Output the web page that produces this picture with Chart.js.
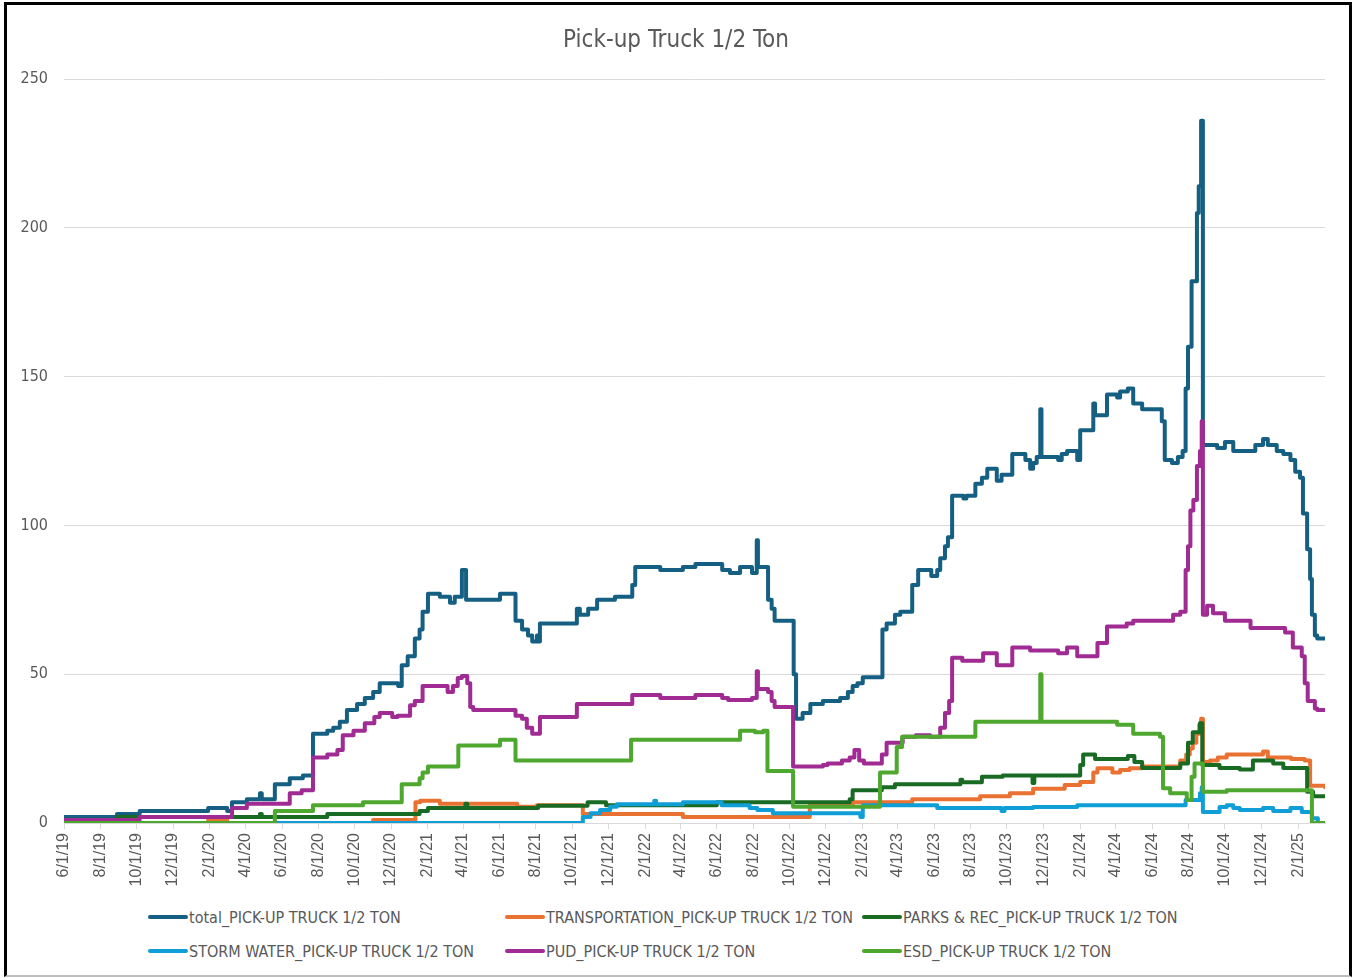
<!DOCTYPE html>
<html>
<head>
<meta charset="utf-8">
<title>Pick-up Truck 1/2 Ton</title>
<script src="https://cdn.jsdelivr.net/npm/chart.js@4.4.1/dist/chart.umd.min.js"></script>
<style>
  html, body { margin: 0; padding: 0; background: #fff; }
  body { width: 1352px; height: 978px; position: relative; overflow: hidden; }
  #frame {
    position: absolute; left: 4px; top: 2px; width: 1348px; height: 975px;
    box-sizing: border-box; border: 3px solid #000; border-bottom: 2px solid #bfbfbf;
  }
  #chart { position: absolute; left: 0; top: 0; }
  #title {
    position: absolute; left: 0; width: 1352px; top: 25px; text-align: center;
    font-family: 'Liberation Sans Narrow', 'DejaVu Sans Condensed', sans-serif;
    font-size: 24px; line-height: 29px; color: #595959;
  }
  .legend-item {
    position: absolute; height: 20px; display: flex; align-items: center;
    font-family: 'Liberation Sans Narrow', 'DejaVu Sans Condensed', sans-serif;
    font-size: 16px; color: #595959; white-space: nowrap;
  }
  .legend-item .swatch { width: 40px; height: 4px; border-radius: 2px; margin-right: 1px; }
</style>
</head>
<body>
<div id="frame"></div>
<canvas id="chart" width="1352" height="900"></canvas>
<div id="title">Pick-up Truck 1/2 Ton</div>
<div id="legend"></div>
<script>
// Values: [date, count], each value holds until the next date

const tickLabels = [
  '6/1/19', '8/1/19', '10/1/19', '12/1/19', '2/1/20', '4/1/20', '6/1/20', '8/1/20',
  '10/1/20', '12/1/20', '2/1/21', '4/1/21', '6/1/21', '8/1/21', '10/1/21', '12/1/21',
  '2/1/22', '4/1/22', '6/1/22', '8/1/22', '10/1/22', '12/1/22', '2/1/23', '4/1/23',
  '6/1/23', '8/1/23', '10/1/23', '12/1/23', '2/1/24', '4/1/24', '6/1/24', '8/1/24',
  '10/1/24', '12/1/24', '2/1/25'
];
const lastDate = '3/18/25';

const total = [
  ['6/1/19', 2], ['8/29/19', 3], ['10/6/19', 4], ['1/29/20', 5], ['3/1/20', 4], ['3/9/20', 7],
  ['4/3/20', 8], ['4/25/20', 10], ['4/28/20', 8], ['5/20/20', 13], ['6/14/20', 15], ['7/6/20', 16],
  ['7/23/20', 30], ['8/16/20', 31], ['8/26/20', 32], ['9/6/20', 34], ['9/18/20', 38], ['10/5/20', 40],
  ['10/18/20', 42], ['11/1/20', 44], ['11/12/20', 47], ['12/13/20', 46], ['12/19/20', 53], ['12/29/20', 56],
  ['1/10/21', 62], ['1/18/21', 65], ['1/23/21', 71], ['2/1/21', 77], ['2/21/21', 76], ['3/10/21', 74],
  ['3/18/21', 76], ['3/30/21', 85], ['4/6/21', 75], ['6/2/21', 77], ['6/28/21', 68], ['7/9/21', 65],
  ['7/19/21', 63], ['7/26/21', 61], ['8/3/21', 63], ['8/5/21', 61], ['8/8/21', 67], ['10/9/21', 72],
  ['10/14/21', 70], ['10/28/21', 72], ['11/12/21', 75], ['12/12/21', 76], ['1/10/22', 80], ['1/15/22', 86],
  ['2/26/22', 85], ['4/5/22', 86], ['4/26/22', 87], ['6/10/22', 85], ['6/23/22', 84], ['7/10/22', 86],
  ['7/30/22', 84], ['8/7/22', 95], ['8/9/22', 86], ['8/26/22', 75], ['9/1/22', 72], ['9/6/22', 68],
  ['10/8/22', 50], ['10/12/22', 35], ['10/23/22', 37], ['11/5/22', 40], ['11/26/22', 41], ['12/25/22', 42],
  ['1/7/23', 44], ['1/15/23', 46], ['1/23/23', 47], ['2/1/23', 49], ['3/6/23', 65], ['3/13/23', 67],
  ['3/27/23', 70], ['4/5/23', 71], ['4/25/23', 80], ['5/5/23', 85], ['5/27/23', 83], ['6/6/23', 85],
  ['6/11/23', 89], ['6/19/23', 93], ['6/24/23', 96], ['7/1/23', 110], ['7/20/23', 109], ['7/25/23', 110],
  ['8/9/23', 114], ['8/20/23', 116], ['8/29/23', 119], ['9/14/23', 115], ['9/22/23', 117], ['10/10/23', 124],
  ['11/1/23', 122], ['11/9/23', 119], ['11/14/23', 121], ['11/20/23', 123], ['11/26/23', 139], ['11/28/23', 123],
  ['12/26/23', 122], ['1/1/24', 124], ['1/10/24', 125], ['1/27/24', 122], ['2/1/24', 132], ['2/23/24', 141],
  ['2/26/24', 137], ['3/17/24', 144], ['4/3/24', 143], ['4/8/24', 145], ['4/21/24', 146], ['4/30/24', 141],
  ['5/15/24', 139], ['6/17/24', 135], ['6/22/24', 122], ['7/4/24', 121], ['7/14/24', 123], ['7/22/24', 125],
  ['7/27/24', 146], ['7/31/24', 160], ['8/6/24', 182], ['8/15/24', 205], ['8/18/24', 214], ['8/22/24', 236],
  ['8/25/24', 127], ['9/18/24', 126], ['10/1/24', 128], ['10/15/24', 125], ['11/21/24', 127], ['12/4/24', 129],
  ['12/12/24', 127], ['12/27/24', 125], ['1/7/25', 124], ['1/19/25', 122], ['1/27/25', 118], ['2/4/25', 116],
  ['2/9/25', 104], ['2/16/25', 92], ['2/21/25', 82], ['2/24/25', 70], ['3/1/25', 63], ['3/5/25', 62],
  ['3/18/25', 62]
];

const transportation = [
  ['6/1/19', 0], ['1/29/20', 1], ['3/1/20', 0], ['11/1/20', 1], ['1/11/21', 7], ['1/19/21', 7.5],
  ['2/21/21', 6.5], ['7/1/21', 5.5], ['8/3/21', 6], ['10/19/21', 3], ['4/5/22', 2], ['11/4/22', 6],
  ['1/15/23', 7], ['4/25/23', 8], ['8/17/23', 9], ['10/6/23', 10], ['11/14/23', 11.5], ['1/6/24', 12.8],
  ['2/1/24', 13.8], ['2/23/24', 17], ['3/1/24', 18.4], ['3/26/24', 17], ['4/8/24', 17.8], ['4/24/24', 18.4],
  ['5/15/24', 19], ['7/18/24', 21], ['7/28/24', 23], ['8/3/24', 25], ['8/8/24', 27], ['8/14/24', 30],
  ['8/19/24', 33], ['8/22/24', 35], ['8/25/24', 20.5], ['9/6/24', 21], ['9/19/24', 22], ['10/4/24', 23],
  ['12/4/24', 24], ['12/12/24', 22], ['1/20/25', 21.5], ['2/12/25', 21], ['2/21/25', 12.5], ['3/18/25', 12]
];

const parksRec = [
  ['6/1/19', 1], ['8/29/19', 2], ['4/25/20', 3], ['4/28/20', 2], ['8/16/20', 3], ['1/18/21', 4],
  ['2/1/21', 5], ['4/5/21', 6.5], ['4/8/21', 5], ['8/5/21', 5.8], ['10/27/21', 7], ['11/27/21', 6],
  ['6/1/22', 7], ['1/10/23', 8], ['1/15/23', 11], ['3/5/23', 12], ['3/27/23', 13], ['7/15/23', 14.5],
  ['7/18/23', 13.7], ['8/20/23', 15.5], ['9/24/23', 16], ['11/13/23', 13.4], ['11/16/23', 16], ['2/1/24', 19.5],
  ['2/6/24', 23], ['2/26/24', 21.5], ['4/21/24', 22.5], ['5/2/24', 20.5], ['5/15/24', 18.5], ['7/18/24', 20],
  ['7/31/24', 27], ['8/8/24', 30.5], ['8/20/24', 33.5], ['8/24/24', 19.5], ['9/22/24', 18.5], ['10/26/24', 18],
  ['11/17/24', 21], ['12/21/24', 20], ['1/7/25', 18.5], ['2/16/25', 10.5], ['2/26/25', 9], ['3/18/25', 9]
];

const stormWater = [
  ['6/1/19', 0], ['10/19/21', 2], ['11/1/21', 3.3], ['11/17/21', 4.4], ['12/4/21', 5.5], ['12/15/21', 6.3],
  ['2/16/22', 7.5], ['2/19/22', 6.3], ['4/5/22', 7], ['6/9/22', 6], ['7/26/22', 5], ['8/8/22', 4.4],
  ['9/3/22', 3.3], ['1/28/23', 2], ['2/1/23', 6], ['6/6/23', 5], ['9/22/23', 4], ['9/27/23', 5],
  ['11/14/23', 5.4], ['1/27/24', 6], ['7/27/24', 7.7], ['8/20/24', 10], ['8/23/24', 12], ['8/25/24', 3.7],
  ['9/22/24', 5.4], ['10/4/24', 6], ['10/15/24', 5], ['10/26/24', 4.4], ['12/4/24', 5], ['12/21/24', 4],
  ['1/19/25', 5], ['2/7/25', 3.7], ['2/24/25', 1.6], ['3/6/25', 0], ['3/18/25', 0]
];

const pud = [
  ['6/1/19', 1], ['10/6/19', 2], ['3/9/20', 5], ['4/3/20', 6.5], ['6/14/20', 10], ['7/4/20', 11],
  ['7/23/20', 22], ['8/16/20', 23], ['9/2/20', 24.5], ['9/11/20', 29.5], ['9/29/20', 31], ['10/18/20', 33.5],
  ['11/3/20', 35.6], ['11/12/20', 37], ['12/3/20', 35.6], ['12/12/20', 36], ['1/2/21', 39.6], ['1/10/21', 41],
  ['1/23/21', 46], ['3/6/21', 44], ['3/15/21', 46], ['3/23/21', 48.7], ['3/30/21', 49.4], ['4/8/21', 47],
  ['4/13/21', 39], ['4/18/21', 38], ['6/28/21', 36], ['7/9/21', 35], ['7/17/21', 32], ['7/26/21', 30],
  ['8/8/21', 35.6], ['10/9/21', 40], ['1/10/22', 43], ['2/26/22', 42], ['4/26/22', 43], ['6/10/22', 42],
  ['6/20/22', 41.3], ['7/30/22', 42], ['8/7/22', 51], ['8/9/22', 45], ['8/26/22', 44], ['9/1/22', 41],
  ['9/6/22', 39], ['10/7/22', 19], ['11/26/22', 19.5], ['12/4/22', 20], ['12/28/22', 21], ['1/10/23', 22],
  ['1/18/23', 24.5], ['1/26/23', 21], ['2/3/23', 20], ['3/5/23', 23], ['3/13/23', 27], ['4/9/23', 29],
  ['5/1/23', 29.5], ['5/25/23', 29], ['6/11/23', 32], ['6/19/23', 37], ['6/26/23', 41], ['7/1/23', 55.5],
  ['7/18/23', 54.5], ['8/22/23', 57], ['9/14/23', 53], ['10/10/23', 59], ['11/9/23', 58], ['12/26/23', 57],
  ['1/10/24', 59], ['1/27/24', 56], ['3/1/24', 60.5], ['3/17/24', 66], ['4/19/24', 67], ['4/30/24', 68],
  ['7/6/24', 70], ['7/18/24', 71], ['7/27/24', 85], ['7/31/24', 93], ['8/4/24', 105], ['8/9/24', 108.5],
  ['8/15/24', 120], ['8/20/24', 125], ['8/23/24', 135], ['8/25/24', 70], ['9/1/24', 73], ['9/11/24', 70.5],
  ['10/1/24', 68], ['11/13/24', 65.5], ['1/10/25', 64], ['1/23/25', 59], ['2/7/25', 56], ['2/12/25', 47],
  ['2/17/25', 41], ['3/1/25', 38.5], ['3/5/25', 38], ['3/18/25', 38]
];

const esd = [
  ['6/1/19', 0], ['5/20/20', 4], ['7/23/20', 6], ['10/15/20', 7], ['12/19/20', 13], ['1/18/21', 15],
  ['1/23/21', 17], ['2/1/21', 19], ['3/24/21', 26], ['6/2/21', 28], ['6/28/21', 21], ['1/8/22', 28],
  ['7/10/22', 31], ['8/4/22', 30.5], ['8/18/22', 31], ['8/25/22', 17.5], ['10/7/22', 5.5], ['3/2/23', 17],
  ['3/30/23', 25.5], ['4/8/23', 29], ['8/9/23', 34], ['11/26/23', 50], ['11/28/23', 34], ['4/3/24', 33],
  ['4/30/24', 30], ['6/14/24', 29], ['6/19/24', 11.7], ['7/1/24', 10], ['7/29/24', 7.7], ['8/6/24', 15.5],
  ['8/11/24', 20], ['8/25/24', 10.5], ['10/4/24', 11], ['2/24/25', 0], ['3/18/25', 0]
];

const seriesNames = [
  'total_PICK-UP TRUCK 1/2 TON',
  'TRANSPORTATION_PICK-UP TRUCK 1/2 TON',
  'PARKS & REC_PICK-UP TRUCK 1/2 TON',
  'STORM WATER_PICK-UP TRUCK 1/2 TON',
  'PUD_PICK-UP TRUCK 1/2 TON',
  'ESD_PICK-UP TRUCK 1/2 TON'
];
const seriesData = [total, transportation, parksRec, stormWater, pud, esd];
const seriesColors = ['#156082', '#E97132', '#196B24', '#0F9ED5', '#A02B93', '#4EA72E'];

// days since 6/1/19
const origin = Date.UTC(2019, 5, 1);
function toDay(label) {
  const [m, d, y] = label.split('/').map(Number);
  return (Date.UTC(2000 + y, m - 1, d) - origin) / 86400000;
}

function toPoints(series) {
  return series.map(([d, v]) => ({ x: toDay(d), y: v }));
}

const narrowFont = "'Liberation Sans Narrow', 'DejaVu Sans Condensed', sans-serif";
const textColor = '#595959';
const gridColor = '#d9d9d9';

const datasets = seriesData.map((series, i) => ({
  label: seriesNames[i],
  data: toPoints(series),
  borderColor: seriesColors[i],
  backgroundColor: seriesColors[i],
  borderWidth: 4,
  borderJoinStyle: 'round',
  borderCapStyle: 'round',
  stepped: true,
  pointRadius: 0,
  fill: false,
  // Excel draws later series on top
  order: seriesData.length - i
}));

new Chart(document.getElementById('chart'), {
  type: 'line',
  data: { datasets: datasets },
  options: {
    responsive: false,
    animation: false,
    devicePixelRatio: 1,
    // title is an html element above, so the top padding leaves room for it
    layout: { padding: { left: 0, right: 27, top: 79, bottom: 0 } },
    plugins: {
      legend: { display: false },
      tooltip: { enabled: false },
      title: { display: false }
    },
    scales: {
      x: {
        type: 'linear',
        min: 0,
        max: toDay(lastDate),
        afterBuildTicks: function(scale) {
          scale.ticks = tickLabels.map(l => ({ value: toDay(l) }));
        },
        afterFit: function(scale) {
          scale.height = 77;
        },
        ticks: {
          autoSkip: false,
          maxRotation: 90,
          minRotation: 90,
          padding: 4,
          color: textColor,
          font: { family: "'Liberation Sans', Arial, sans-serif", size: 16 },
          callback: function(value, index) {
            return tickLabels[index];
          }
        },
        grid: { drawOnChartArea: false, color: gridColor, tickLength: 6 },
        border: { color: gridColor }
      },
      y: {
        min: 0,
        max: 250,
        afterFit: function(scale) {
          scale.width = 64;
        },
        ticks: {
          stepSize: 50,
          padding: 16,
          color: textColor,
          font: { family: narrowFont, size: 16 }
        },
        grid: { color: gridColor, drawTicks: false },
        border: { display: false }
      }
    }
  }
});

// Legend laid out in Excel's three columns
const legendColumns = [148, 505, 862];
const legendRows = [907, 941];
const legend = document.getElementById('legend');
seriesNames.forEach((name, i) => {
  const item = document.createElement('div');
  item.className = 'legend-item';
  item.style.left = legendColumns[i % 3] + 'px';
  item.style.top = legendRows[Math.floor(i / 3)] + 'px';
  item.innerHTML = `<div class="swatch" style="background:${seriesColors[i]}"></div><span></span>`;
  item.querySelector('span').textContent = name;
  legend.appendChild(item);
});
</script>
</body>
</html>
